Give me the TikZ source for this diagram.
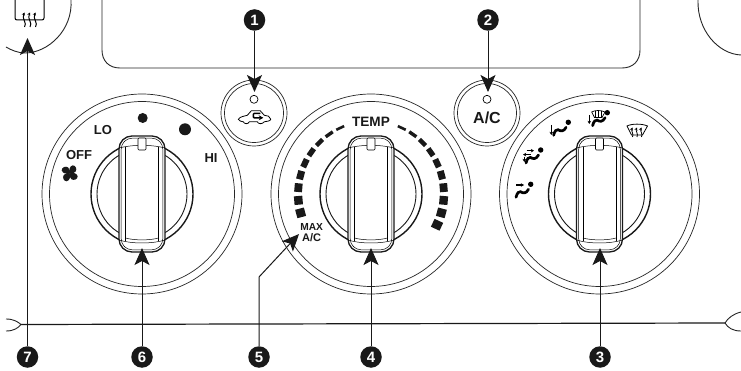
\documentclass[tikz,border=0pt]{standalone}
\usepackage{fontspec}
\setmainfont{Liberation Sans}
\usetikzlibrary{arrows.meta}
\tikzset{
  thinln/.style={line width=0.7pt,draw=black!85},
  panel/.style={line width=0.9pt,draw=black!85},
  callout/.style={circle,fill=black!90,text=white,inner sep=0pt,minimum size=21.5pt,font=\bfseries\fontsize{15}{15}\selectfont},
  pointer/.style={line width=1pt,black!90,-{Stealth[length=17pt,width=15pt,inset=4pt]}},
  lbl/.style={inner sep=0pt,text=black!90,font=\bfseries\fontsize{#1}{#1}\selectfont},
  seat/.style={line width=2.7pt,line cap=round},
  tinyarr/.style={line width=1.1pt,-{Stealth[length=3.2pt,width=3.6pt]}},
  heat/.style={line width=1pt,-{Stealth[length=3pt,width=3.2pt]}}
}
\newcommand{\knobdial}[1]{%
  \begin{scope}[shift={(#1,194)}]
    \draw[thinln] (0,0) circle[radius=100pt];
    \draw[thinln] (0,0) circle[radius=92.5pt];
    \draw[line width=1.4pt,black!90] (0,0) circle[radius=51pt];
    \draw[line width=0.9pt,black!90] (0,0) circle[radius=45pt];
    \draw[line width=1.3pt,black!90,fill=white,rounded corners=13pt] (-23,-58) rectangle (23,58);
    \draw[line width=0.5pt,rounded corners=11pt] (-20.8,-55.8) rectangle (20.8,55.8);
    \draw[line width=0.5pt] (-16.5,-47) -- (-16.5,47) (16.5,-47) -- (16.5,47);
    \draw[line width=0.5pt] (-23,-46) .. controls (-10,-49.5) and (10,-49.5) .. (23,-46);
    \draw[line width=0.5pt] (-23,46) .. controls (-10,50) and (10,50) .. (23,46);
    \draw[line width=0.5pt] (-16.5,44) .. controls (-8,46.5) and (8,46.5) .. (16.5,44);
    \draw[line width=0.6pt,fill=white,rounded corners=1pt] (-4,-56) rectangle (4,-44);
  \end{scope}}
\newcommand{\person}[2]{%
  \begin{scope}[shift={(#1,#2)}]
    \draw[seat] (-7,7.3) .. controls (-6,3) and (-4,1) .. (-2.5,1.7) .. controls (0,3.3) and (3,4) .. (5.5,-0.7);
    \fill (7.7,-5.7) circle[radius=2.7pt];
  \end{scope}}
\begin{document}
\begin{tikzpicture}[x=1pt,y=-1pt]
\useasboundingbox (0,0) rectangle (741,371);
\fill[white] (0,0) rectangle (741,371);
% panel outlines
\draw[panel] (102,0) -- (102,50) .. controls (102,61) and (109,68) .. (120,68) -- (622,68) .. controls (633,68) and (640,61) .. (640,50) -- (640,0);
\draw[panel] (71,0) .. controls (73,30) and (48,53) .. (25,53) .. controls (18,53) and (11,50) .. (6,47);
\draw[panel] (698,0) .. controls (697,30) and (718,54) .. (741,55);
\draw[line width=1.2pt,black!90] (21,324.5) -- (725,323);
\draw[panel] (6,319) .. controls (14,319) and (18,322) .. (21,324.5) .. controls (18,328) and (14,331) .. (6,331);
\draw[panel] (741,312) .. controls (733,314) and (728,318) .. (725,323) .. controls (728,328) and (733,331) .. (741,331);
% rear defrost icon
\draw[line width=1pt,rounded corners=2pt] (15,0) -- (15,20) -- (44,20) -- (44,0);
\foreach \hx in {24.5,30,35.5}{
  \draw[heat] (\hx,27) .. controls (\hx+3,23) and (\hx-3,19) .. (\hx,12.5);
}
% dials
\knobdial{142}
\knobdial{371}
\knobdial{599.5}
% buttons
\foreach \bx/\bn in {254/a,487/b}{
  \draw[thinln] (\bx,113) circle[radius=33pt];
  \draw[thinln] (\bx,113) circle[radius=29.5pt];
  \draw[line width=0.7pt] (\bx,99.3) circle[radius=4pt];
}
% recirculation car
\begin{scope}[shift={(254.3,118.3)}]
  \draw[line width=0.8pt,line join=round] (-16,1) .. controls (-14,-2) and (-10,-2) .. (-7,-3) -- (-3,-7.5) -- (6,-7.5) -- (10,-3) .. controls (13,-3) and (16,-2) .. (16.5,1) .. controls (16,3) and (12,3) .. (10,3.5) .. controls (8,6) and (4,6) .. (3,3.5) -- (-5,3.5) .. controls (-6,6) and (-10,6) .. (-11,3.5) .. controls (-13,3) and (-15,3) .. (-16,1) -- cycle;
  \draw[line width=1.5pt,-{Stealth[length=4.5pt,width=5pt]},rounded corners=1pt] (6,-5) -- (-1,-5) -- (-1,-0.5) -- (9,-0.5);
\end{scope}
% fan dial text
\node[lbl=13] (lo) at (103,130) {LO};
\node[lbl=13] (off) at (79,155) {OFF};
\node[lbl=13] (hi) at (211,158) {HI};
\fill[black!90] (142.7,118) circle[radius=5pt];
\fill[black!90] (185,129.3) circle[radius=6pt];
\begin{scope}[shift={(69.7,173.3)}]
  \foreach \ang in {20,110,200,290}{
    \fill[black!90,rotate=\ang] (0,0.6) .. controls (0.5,-4) and (2,-6.5) .. (5.5,-6.5) .. controls (8.5,-5.5) and (8.5,-1) .. (6,0.5) .. controls (4,1.5) and (2,1) .. (0,0.6) -- cycle;
  }
\end{scope}
% temp dial text and scale
\node[lbl=13.6] (temp) at (371,122) {TEMP};
\node[lbl=10.2] (maxt) at (311.7,227) {MAX};
\node[lbl=11] (act) at (311.7,238) {A/C};
\node[lbl=16] (ac) at (487,118) {A/C};
\begin{scope}[shift={(371,194)}]
  \foreach \a/\w in {115/2.6,125/3.4,135/4.4,145/5.4,155/6.2,165/7,175/7.8,185/8.4,195/9,
                     65/2.6,55/3.4,45/4.4,35/5.4,25/6.2,15/7,5/7.8,-5/8.4,-15/9,-25/9.5}{
    \draw[line width=\w pt,black!90] ({-(\a-3.4)}:73) -- ({-(\a+3.4)}:73);
  }
\end{scope}
% mode icons
\person{523}{190}
\draw[tinyarr] (516,185) -- (524,185);
\person{533}{155.7}
\draw[tinyarr] (526.7,150.7) -- (534,150.7);
\draw[tinyarr] (530.5,154.6) -- (523,154.6);
\draw[tinyarr] (524.3,157) -- (524.3,162);
\person{560.6}{128}
\draw[tinyarr] (551.3,125) -- (551.3,135);
\person{599.6}{118.4}
\draw[tinyarr] (589.3,115) -- (589.3,124);
\draw[line width=0.7pt,fill=white] (591.7,112) .. controls (595,110) and (601,110) .. (605,112) -- (602,117.5) -- (594.5,117.5) -- cycle;
\foreach \hx in {595.5,598.3,601}{\draw[line width=0.6pt] (\hx,111) -- (\hx,117.5);}
\draw[line width=0.8pt] (627,126) .. controls (632,123.5) and (642,123.5) .. (647.5,126) -- (642.5,135) -- (631.5,135) -- cycle;
\foreach \hx in {632.5,637,641.5}{
  \draw[heat,line width=0.8pt] (\hx,137) .. controls (\hx+1.5,134) and (\hx-1.5,131) .. (\hx,127.5);
}
% callouts
\node[callout] (n1) at (254.5,20) {1};
\node[callout] (n2) at (488,20) {2};
\node[callout] (n3) at (600,357) {3};
\node[callout] (n4) at (371,357) {4};
\node[callout] (n5) at (259,357) {5};
\node[callout] (n6) at (142,357) {6};
\node[callout] (n7) at (27.5,357) {7};
\coordinate (t1) at (254.5,92);
\coordinate (t2) at (488,92);
\coordinate (t3) at (600,248);
\coordinate (t4) at (371,248);
\coordinate (t5) at (299,234);
\coordinate (t6) at (142,248);
\coordinate (t7) at (27.5,38);
\coordinate (b5) at (259,277);
\draw[pointer] (n1) -- (t1);
\draw[pointer] (n2) -- (t2);
\draw[pointer] (n3) -- (t3);
\draw[pointer] (n4) -- (t4);
\draw[pointer] (n5) -- (b5) -- (t5);
\draw[pointer] (n6) -- (t6);
\draw[pointer] (n7) -- (t7);
\end{tikzpicture}
\end{document}
